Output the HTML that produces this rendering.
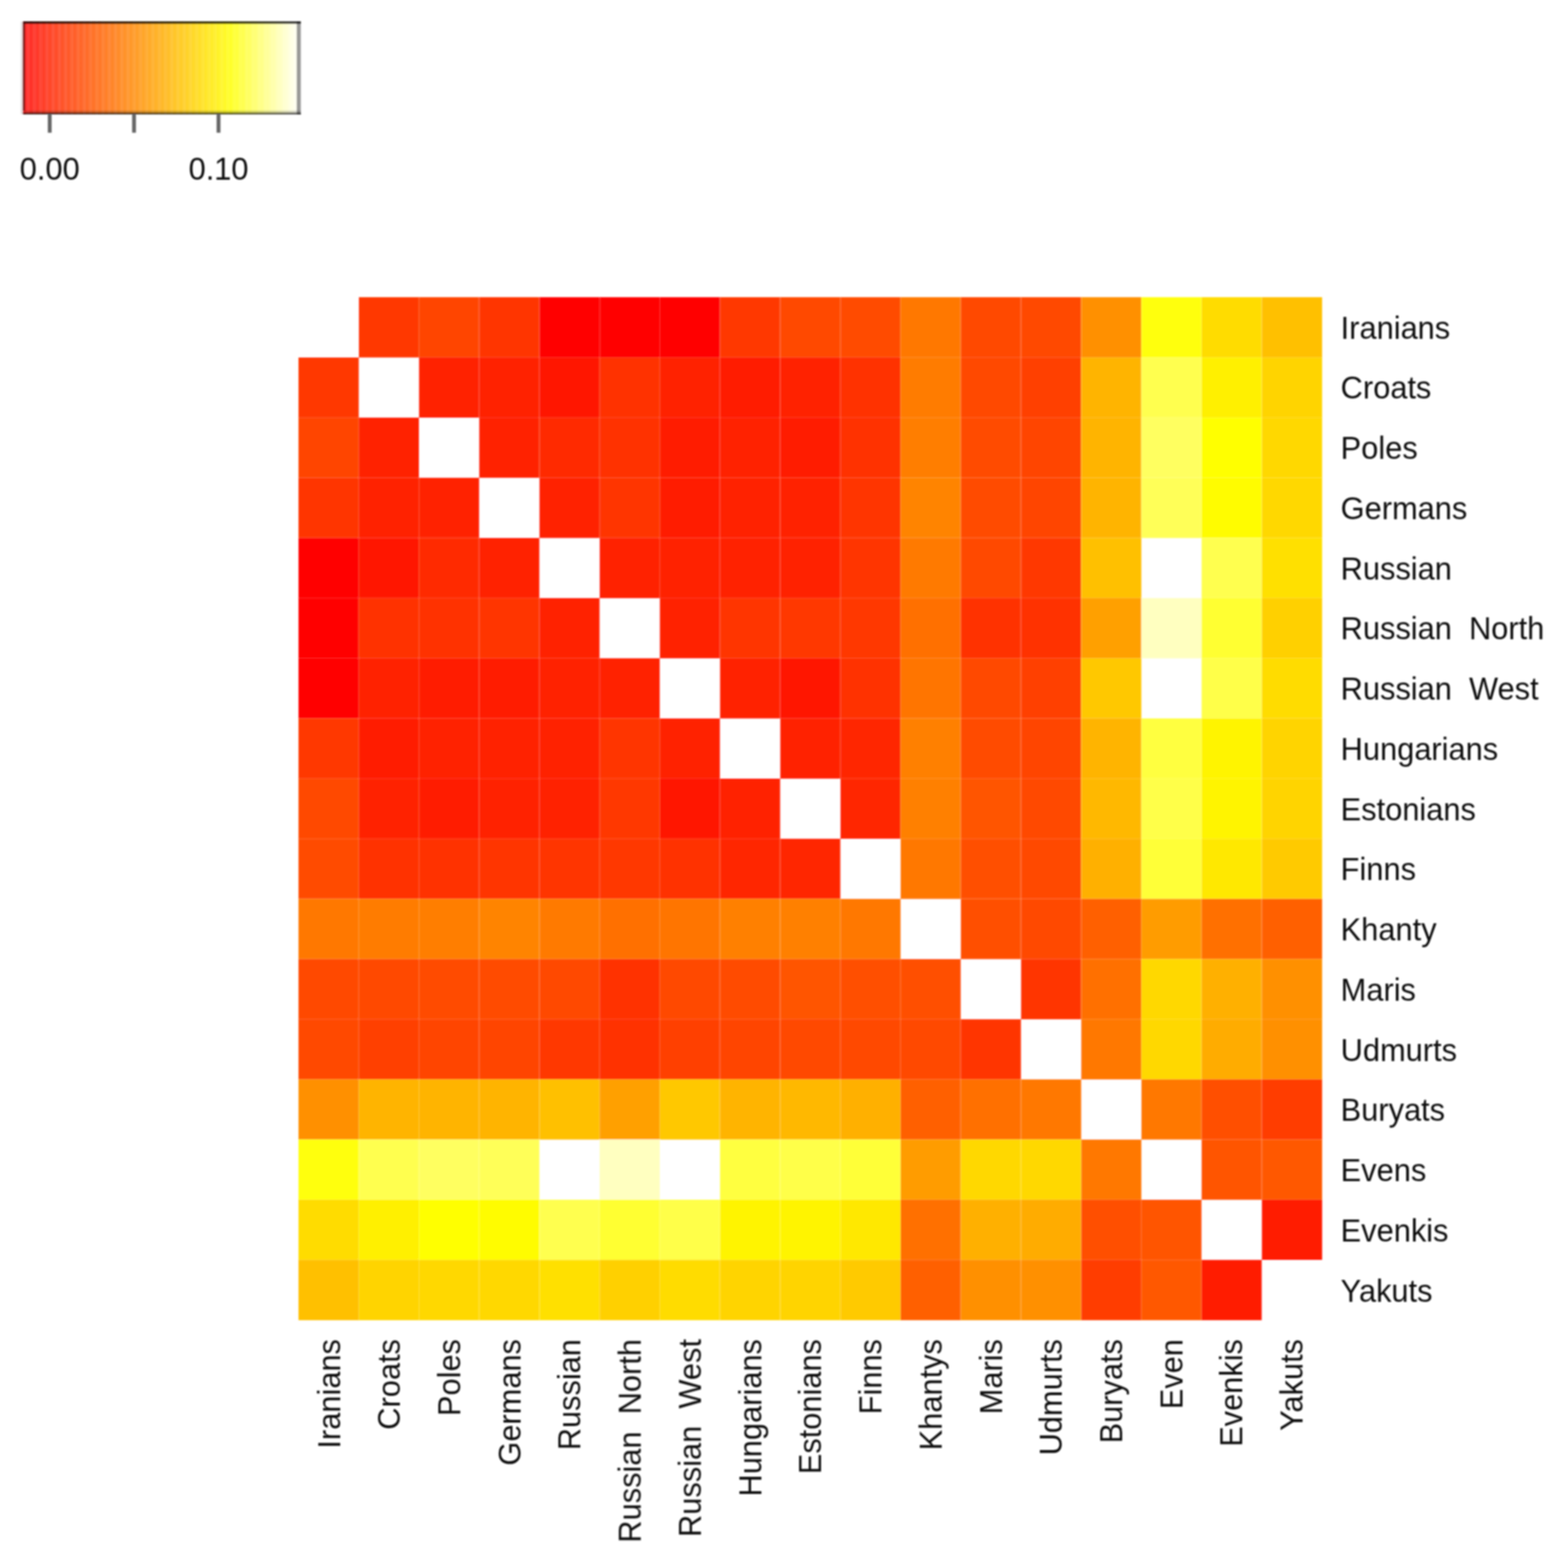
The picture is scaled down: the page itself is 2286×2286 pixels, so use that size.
<!DOCTYPE html>
<html lang="en"><head><meta charset="utf-8"><title>Fst heatmap</title>
<style>
html,body{margin:0;padding:0;background:#fff;}
body{width:2286px;height:2286px;overflow:hidden;}
svg{display:block;}
text{font-family:"Liberation Sans",sans-serif;font-size:46px;fill:#101010;white-space:pre;}
.cells{shape-rendering:auto;}
</style></head><body>
<svg width="2286" height="2286" viewBox="0 0 2286 2286">
<defs>
<linearGradient id="heat" x1="0" y1="0" x2="1" y2="0"><stop offset="0.00" stop-color="#FF2B2B"/><stop offset="0.05" stop-color="#FF392B"/><stop offset="0.10" stop-color="#FF482B"/><stop offset="0.15" stop-color="#FF562B"/><stop offset="0.20" stop-color="#FF642B"/><stop offset="0.25" stop-color="#FF722B"/><stop offset="0.30" stop-color="#FF802B"/><stop offset="0.35" stop-color="#FF8E2B"/><stop offset="0.40" stop-color="#FF9C2B"/><stop offset="0.45" stop-color="#FFAA2B"/><stop offset="0.50" stop-color="#FFB82B"/><stop offset="0.55" stop-color="#FFC72B"/><stop offset="0.60" stop-color="#FFD52B"/><stop offset="0.65" stop-color="#FFE32B"/><stop offset="0.70" stop-color="#FFF12B"/><stop offset="0.75" stop-color="#FFFF2B"/><stop offset="0.80" stop-color="#FFFF56"/><stop offset="0.85" stop-color="#FFFF80"/><stop offset="0.90" stop-color="#FFFFAA"/><stop offset="0.95" stop-color="#FFFFD5"/><stop offset="1.00" stop-color="#FFFFFF"/></linearGradient>
<pattern id="stripe" width="9.1" height="10" patternUnits="userSpaceOnUse" x="34"><rect x="5" y="0" width="4" height="10" fill="#fff" fill-opacity="0.07"/></pattern>
<filter id="soft" x="-5%" y="-5%" width="110%" height="110%"><feGaussianBlur stdDeviation="0.8"/></filter>
<filter id="soft2" filterUnits="userSpaceOnUse" x="400" y="400" width="1560" height="1560"><feGaussianBlur stdDeviation="0.8"/></filter>
</defs>
<rect width="2286" height="2286" fill="#fff"/>
<g filter="url(#soft)">
<rect x="33.7" y="31.5" width="404.2" height="134.5" fill="url(#heat)"/>
<rect x="33.7" y="31.5" width="404.2" height="134.5" fill="url(#stripe)"/>
<rect x="33.7" y="31" width="404.8" height="3.8" fill="#000" fill-opacity="0.74"/>
<rect x="33.7" y="164" width="404.8" height="3" fill="#000" fill-opacity="0.64"/>
<rect x="33.7" y="161.2" width="404.8" height="2.8" fill="#000" fill-opacity="0.16"/>
<rect x="33.7" y="34.8" width="2.8" height="126.4" fill="#000" fill-opacity="0.55"/>
<rect x="30.4" y="31.5" width="3.3" height="135" fill="#000" fill-opacity="0.14"/>
<rect x="432.6" y="31.5" width="6.1" height="135.5" fill="#000" fill-opacity="0.4"/>
<rect x="69.7" y="166.5" width="5.6" height="27" fill="#666"/>
<rect x="192.6" y="166.5" width="5.6" height="27" fill="#666"/>
<rect x="315.8" y="166.5" width="5.6" height="27" fill="#666"/>
</g>
<g filter="url(#soft)">
<text transform="translate(72.5,261.5) scale(0.955,1)" text-anchor="middle" style="font-size:47px">0.00</text>
<text transform="translate(318.6,261.5) scale(0.955,1)" text-anchor="middle" style="font-size:47px">0.10</text>
</g>
<g filter="url(#soft2)">
<g class="cells">
<rect x="522.96" y="433.30" width="88.06" height="88.01" fill="#FF3700"/>
<rect x="610.73" y="433.30" width="88.06" height="88.01" fill="#FF4400"/>
<rect x="698.49" y="433.30" width="88.06" height="88.01" fill="#FF3500"/>
<rect x="786.26" y="433.30" width="88.06" height="88.01" fill="#FF0000"/>
<rect x="874.02" y="433.30" width="88.06" height="88.01" fill="#FF0000"/>
<rect x="961.79" y="433.30" width="88.06" height="88.01" fill="#FF0000"/>
<rect x="1049.55" y="433.30" width="88.06" height="88.01" fill="#FF3800"/>
<rect x="1137.32" y="433.30" width="88.06" height="88.01" fill="#FF4800"/>
<rect x="1225.08" y="433.30" width="88.06" height="88.01" fill="#FF4C00"/>
<rect x="1312.85" y="433.30" width="88.06" height="88.01" fill="#FF7800"/>
<rect x="1400.61" y="433.30" width="88.06" height="88.01" fill="#FF4800"/>
<rect x="1488.38" y="433.30" width="88.06" height="88.01" fill="#FF4800"/>
<rect x="1576.14" y="433.30" width="88.06" height="88.01" fill="#FF9000"/>
<rect x="1663.91" y="433.30" width="88.06" height="88.01" fill="#FFFF10"/>
<rect x="1751.67" y="433.30" width="88.06" height="88.01" fill="#FFDC00"/>
<rect x="1839.44" y="433.30" width="88.06" height="88.01" fill="#FFC000"/>
<rect x="435.20" y="521.01" width="88.06" height="88.01" fill="#FF3700"/>
<rect x="610.73" y="521.01" width="88.06" height="88.01" fill="#FF2000"/>
<rect x="698.49" y="521.01" width="88.06" height="88.01" fill="#FF2000"/>
<rect x="786.26" y="521.01" width="88.06" height="88.01" fill="#FF1800"/>
<rect x="874.02" y="521.01" width="88.06" height="88.01" fill="#FF3000"/>
<rect x="961.79" y="521.01" width="88.06" height="88.01" fill="#FF2000"/>
<rect x="1049.55" y="521.01" width="88.06" height="88.01" fill="#FF1C00"/>
<rect x="1137.32" y="521.01" width="88.06" height="88.01" fill="#FF2400"/>
<rect x="1225.08" y="521.01" width="88.06" height="88.01" fill="#FF3000"/>
<rect x="1312.85" y="521.01" width="88.06" height="88.01" fill="#FF7C00"/>
<rect x="1400.61" y="521.01" width="88.06" height="88.01" fill="#FF4800"/>
<rect x="1488.38" y="521.01" width="88.06" height="88.01" fill="#FF4000"/>
<rect x="1576.14" y="521.01" width="88.06" height="88.01" fill="#FFB400"/>
<rect x="1663.91" y="521.01" width="88.06" height="88.01" fill="#FFFF50"/>
<rect x="1751.67" y="521.01" width="88.06" height="88.01" fill="#FFF000"/>
<rect x="1839.44" y="521.01" width="88.06" height="88.01" fill="#FFD400"/>
<rect x="435.20" y="608.72" width="88.06" height="88.01" fill="#FF4400"/>
<rect x="522.96" y="608.72" width="88.06" height="88.01" fill="#FF2000"/>
<rect x="698.49" y="608.72" width="88.06" height="88.01" fill="#FF2200"/>
<rect x="786.26" y="608.72" width="88.06" height="88.01" fill="#FF2C00"/>
<rect x="874.02" y="608.72" width="88.06" height="88.01" fill="#FF3000"/>
<rect x="961.79" y="608.72" width="88.06" height="88.01" fill="#FF1C00"/>
<rect x="1049.55" y="608.72" width="88.06" height="88.01" fill="#FF2000"/>
<rect x="1137.32" y="608.72" width="88.06" height="88.01" fill="#FF1C00"/>
<rect x="1225.08" y="608.72" width="88.06" height="88.01" fill="#FF3000"/>
<rect x="1312.85" y="608.72" width="88.06" height="88.01" fill="#FF7E00"/>
<rect x="1400.61" y="608.72" width="88.06" height="88.01" fill="#FF4C00"/>
<rect x="1488.38" y="608.72" width="88.06" height="88.01" fill="#FF4400"/>
<rect x="1576.14" y="608.72" width="88.06" height="88.01" fill="#FFB400"/>
<rect x="1663.91" y="608.72" width="88.06" height="88.01" fill="#FFFF60"/>
<rect x="1751.67" y="608.72" width="88.06" height="88.01" fill="#FFFF00"/>
<rect x="1839.44" y="608.72" width="88.06" height="88.01" fill="#FFD800"/>
<rect x="435.20" y="696.44" width="88.06" height="88.01" fill="#FF3500"/>
<rect x="522.96" y="696.44" width="88.06" height="88.01" fill="#FF2000"/>
<rect x="610.73" y="696.44" width="88.06" height="88.01" fill="#FF2200"/>
<rect x="786.26" y="696.44" width="88.06" height="88.01" fill="#FF2000"/>
<rect x="874.02" y="696.44" width="88.06" height="88.01" fill="#FF3400"/>
<rect x="961.79" y="696.44" width="88.06" height="88.01" fill="#FF1C00"/>
<rect x="1049.55" y="696.44" width="88.06" height="88.01" fill="#FF2000"/>
<rect x="1137.32" y="696.44" width="88.06" height="88.01" fill="#FF2400"/>
<rect x="1225.08" y="696.44" width="88.06" height="88.01" fill="#FF3400"/>
<rect x="1312.85" y="696.44" width="88.06" height="88.01" fill="#FF8400"/>
<rect x="1400.61" y="696.44" width="88.06" height="88.01" fill="#FF4C00"/>
<rect x="1488.38" y="696.44" width="88.06" height="88.01" fill="#FF4400"/>
<rect x="1576.14" y="696.44" width="88.06" height="88.01" fill="#FFB400"/>
<rect x="1663.91" y="696.44" width="88.06" height="88.01" fill="#FFFF58"/>
<rect x="1751.67" y="696.44" width="88.06" height="88.01" fill="#FFFC00"/>
<rect x="1839.44" y="696.44" width="88.06" height="88.01" fill="#FFD800"/>
<rect x="435.20" y="784.15" width="88.06" height="88.01" fill="#FF0000"/>
<rect x="522.96" y="784.15" width="88.06" height="88.01" fill="#FF1800"/>
<rect x="610.73" y="784.15" width="88.06" height="88.01" fill="#FF2C00"/>
<rect x="698.49" y="784.15" width="88.06" height="88.01" fill="#FF2000"/>
<rect x="874.02" y="784.15" width="88.06" height="88.01" fill="#FF2000"/>
<rect x="961.79" y="784.15" width="88.06" height="88.01" fill="#FF2000"/>
<rect x="1049.55" y="784.15" width="88.06" height="88.01" fill="#FF2000"/>
<rect x="1137.32" y="784.15" width="88.06" height="88.01" fill="#FF2000"/>
<rect x="1225.08" y="784.15" width="88.06" height="88.01" fill="#FF3400"/>
<rect x="1312.85" y="784.15" width="88.06" height="88.01" fill="#FF7A00"/>
<rect x="1400.61" y="784.15" width="88.06" height="88.01" fill="#FF4800"/>
<rect x="1488.38" y="784.15" width="88.06" height="88.01" fill="#FF3800"/>
<rect x="1576.14" y="784.15" width="88.06" height="88.01" fill="#FFC000"/>
<rect x="1751.67" y="784.15" width="88.06" height="88.01" fill="#FFFF50"/>
<rect x="1839.44" y="784.15" width="88.06" height="88.01" fill="#FFE000"/>
<rect x="435.20" y="871.86" width="88.06" height="88.01" fill="#FF0000"/>
<rect x="522.96" y="871.86" width="88.06" height="88.01" fill="#FF3000"/>
<rect x="610.73" y="871.86" width="88.06" height="88.01" fill="#FF3000"/>
<rect x="698.49" y="871.86" width="88.06" height="88.01" fill="#FF3400"/>
<rect x="786.26" y="871.86" width="88.06" height="88.01" fill="#FF2000"/>
<rect x="961.79" y="871.86" width="88.06" height="88.01" fill="#FF2000"/>
<rect x="1049.55" y="871.86" width="88.06" height="88.01" fill="#FF3400"/>
<rect x="1137.32" y="871.86" width="88.06" height="88.01" fill="#FF3800"/>
<rect x="1225.08" y="871.86" width="88.06" height="88.01" fill="#FF3800"/>
<rect x="1312.85" y="871.86" width="88.06" height="88.01" fill="#FF7000"/>
<rect x="1400.61" y="871.86" width="88.06" height="88.01" fill="#FF3000"/>
<rect x="1488.38" y="871.86" width="88.06" height="88.01" fill="#FF3000"/>
<rect x="1576.14" y="871.86" width="88.06" height="88.01" fill="#FFA000"/>
<rect x="1663.91" y="871.86" width="88.06" height="88.01" fill="#FFFFC0"/>
<rect x="1751.67" y="871.86" width="88.06" height="88.01" fill="#FFFF30"/>
<rect x="1839.44" y="871.86" width="88.06" height="88.01" fill="#FFD000"/>
<rect x="435.20" y="959.57" width="88.06" height="88.01" fill="#FF0000"/>
<rect x="522.96" y="959.57" width="88.06" height="88.01" fill="#FF2000"/>
<rect x="610.73" y="959.57" width="88.06" height="88.01" fill="#FF1C00"/>
<rect x="698.49" y="959.57" width="88.06" height="88.01" fill="#FF1C00"/>
<rect x="786.26" y="959.57" width="88.06" height="88.01" fill="#FF2000"/>
<rect x="874.02" y="959.57" width="88.06" height="88.01" fill="#FF2000"/>
<rect x="1049.55" y="959.57" width="88.06" height="88.01" fill="#FF2000"/>
<rect x="1137.32" y="959.57" width="88.06" height="88.01" fill="#FF1400"/>
<rect x="1225.08" y="959.57" width="88.06" height="88.01" fill="#FF3000"/>
<rect x="1312.85" y="959.57" width="88.06" height="88.01" fill="#FF7400"/>
<rect x="1400.61" y="959.57" width="88.06" height="88.01" fill="#FF4800"/>
<rect x="1488.38" y="959.57" width="88.06" height="88.01" fill="#FF4000"/>
<rect x="1576.14" y="959.57" width="88.06" height="88.01" fill="#FFC800"/>
<rect x="1751.67" y="959.57" width="88.06" height="88.01" fill="#FFFF48"/>
<rect x="1839.44" y="959.57" width="88.06" height="88.01" fill="#FFDC00"/>
<rect x="435.20" y="1047.28" width="88.06" height="88.01" fill="#FF3800"/>
<rect x="522.96" y="1047.28" width="88.06" height="88.01" fill="#FF1C00"/>
<rect x="610.73" y="1047.28" width="88.06" height="88.01" fill="#FF2000"/>
<rect x="698.49" y="1047.28" width="88.06" height="88.01" fill="#FF2000"/>
<rect x="786.26" y="1047.28" width="88.06" height="88.01" fill="#FF2000"/>
<rect x="874.02" y="1047.28" width="88.06" height="88.01" fill="#FF3400"/>
<rect x="961.79" y="1047.28" width="88.06" height="88.01" fill="#FF2000"/>
<rect x="1137.32" y="1047.28" width="88.06" height="88.01" fill="#FF2000"/>
<rect x="1225.08" y="1047.28" width="88.06" height="88.01" fill="#FF2800"/>
<rect x="1312.85" y="1047.28" width="88.06" height="88.01" fill="#FF8000"/>
<rect x="1400.61" y="1047.28" width="88.06" height="88.01" fill="#FF4C00"/>
<rect x="1488.38" y="1047.28" width="88.06" height="88.01" fill="#FF4400"/>
<rect x="1576.14" y="1047.28" width="88.06" height="88.01" fill="#FFB400"/>
<rect x="1663.91" y="1047.28" width="88.06" height="88.01" fill="#FFFF40"/>
<rect x="1751.67" y="1047.28" width="88.06" height="88.01" fill="#FFF400"/>
<rect x="1839.44" y="1047.28" width="88.06" height="88.01" fill="#FFD400"/>
<rect x="435.20" y="1134.99" width="88.06" height="88.01" fill="#FF4800"/>
<rect x="522.96" y="1134.99" width="88.06" height="88.01" fill="#FF2400"/>
<rect x="610.73" y="1134.99" width="88.06" height="88.01" fill="#FF1C00"/>
<rect x="698.49" y="1134.99" width="88.06" height="88.01" fill="#FF2400"/>
<rect x="786.26" y="1134.99" width="88.06" height="88.01" fill="#FF2000"/>
<rect x="874.02" y="1134.99" width="88.06" height="88.01" fill="#FF3800"/>
<rect x="961.79" y="1134.99" width="88.06" height="88.01" fill="#FF1400"/>
<rect x="1049.55" y="1134.99" width="88.06" height="88.01" fill="#FF2000"/>
<rect x="1225.08" y="1134.99" width="88.06" height="88.01" fill="#FF2800"/>
<rect x="1312.85" y="1134.99" width="88.06" height="88.01" fill="#FF8000"/>
<rect x="1400.61" y="1134.99" width="88.06" height="88.01" fill="#FF5400"/>
<rect x="1488.38" y="1134.99" width="88.06" height="88.01" fill="#FF4800"/>
<rect x="1576.14" y="1134.99" width="88.06" height="88.01" fill="#FFB800"/>
<rect x="1663.91" y="1134.99" width="88.06" height="88.01" fill="#FFFF48"/>
<rect x="1751.67" y="1134.99" width="88.06" height="88.01" fill="#FFF400"/>
<rect x="1839.44" y="1134.99" width="88.06" height="88.01" fill="#FFD400"/>
<rect x="435.20" y="1222.71" width="88.06" height="88.01" fill="#FF4C00"/>
<rect x="522.96" y="1222.71" width="88.06" height="88.01" fill="#FF3000"/>
<rect x="610.73" y="1222.71" width="88.06" height="88.01" fill="#FF3000"/>
<rect x="698.49" y="1222.71" width="88.06" height="88.01" fill="#FF3400"/>
<rect x="786.26" y="1222.71" width="88.06" height="88.01" fill="#FF3400"/>
<rect x="874.02" y="1222.71" width="88.06" height="88.01" fill="#FF3800"/>
<rect x="961.79" y="1222.71" width="88.06" height="88.01" fill="#FF3000"/>
<rect x="1049.55" y="1222.71" width="88.06" height="88.01" fill="#FF2800"/>
<rect x="1137.32" y="1222.71" width="88.06" height="88.01" fill="#FF2800"/>
<rect x="1312.85" y="1222.71" width="88.06" height="88.01" fill="#FF7800"/>
<rect x="1400.61" y="1222.71" width="88.06" height="88.01" fill="#FF5000"/>
<rect x="1488.38" y="1222.71" width="88.06" height="88.01" fill="#FF4800"/>
<rect x="1576.14" y="1222.71" width="88.06" height="88.01" fill="#FFB000"/>
<rect x="1663.91" y="1222.71" width="88.06" height="88.01" fill="#FFFF38"/>
<rect x="1751.67" y="1222.71" width="88.06" height="88.01" fill="#FFE800"/>
<rect x="1839.44" y="1222.71" width="88.06" height="88.01" fill="#FFCA00"/>
<rect x="435.20" y="1310.42" width="88.06" height="88.01" fill="#FF7800"/>
<rect x="522.96" y="1310.42" width="88.06" height="88.01" fill="#FF7C00"/>
<rect x="610.73" y="1310.42" width="88.06" height="88.01" fill="#FF7E00"/>
<rect x="698.49" y="1310.42" width="88.06" height="88.01" fill="#FF8400"/>
<rect x="786.26" y="1310.42" width="88.06" height="88.01" fill="#FF7A00"/>
<rect x="874.02" y="1310.42" width="88.06" height="88.01" fill="#FF7000"/>
<rect x="961.79" y="1310.42" width="88.06" height="88.01" fill="#FF7400"/>
<rect x="1049.55" y="1310.42" width="88.06" height="88.01" fill="#FF8000"/>
<rect x="1137.32" y="1310.42" width="88.06" height="88.01" fill="#FF8000"/>
<rect x="1225.08" y="1310.42" width="88.06" height="88.01" fill="#FF7800"/>
<rect x="1400.61" y="1310.42" width="88.06" height="88.01" fill="#FF5000"/>
<rect x="1488.38" y="1310.42" width="88.06" height="88.01" fill="#FF4800"/>
<rect x="1576.14" y="1310.42" width="88.06" height="88.01" fill="#FF6000"/>
<rect x="1663.91" y="1310.42" width="88.06" height="88.01" fill="#FF9C00"/>
<rect x="1751.67" y="1310.42" width="88.06" height="88.01" fill="#FF7000"/>
<rect x="1839.44" y="1310.42" width="88.06" height="88.01" fill="#FF6000"/>
<rect x="435.20" y="1398.13" width="88.06" height="88.01" fill="#FF4800"/>
<rect x="522.96" y="1398.13" width="88.06" height="88.01" fill="#FF4800"/>
<rect x="610.73" y="1398.13" width="88.06" height="88.01" fill="#FF4C00"/>
<rect x="698.49" y="1398.13" width="88.06" height="88.01" fill="#FF4C00"/>
<rect x="786.26" y="1398.13" width="88.06" height="88.01" fill="#FF4800"/>
<rect x="874.02" y="1398.13" width="88.06" height="88.01" fill="#FF3000"/>
<rect x="961.79" y="1398.13" width="88.06" height="88.01" fill="#FF4800"/>
<rect x="1049.55" y="1398.13" width="88.06" height="88.01" fill="#FF4C00"/>
<rect x="1137.32" y="1398.13" width="88.06" height="88.01" fill="#FF5400"/>
<rect x="1225.08" y="1398.13" width="88.06" height="88.01" fill="#FF5000"/>
<rect x="1312.85" y="1398.13" width="88.06" height="88.01" fill="#FF5000"/>
<rect x="1488.38" y="1398.13" width="88.06" height="88.01" fill="#FF3400"/>
<rect x="1576.14" y="1398.13" width="88.06" height="88.01" fill="#FF7000"/>
<rect x="1663.91" y="1398.13" width="88.06" height="88.01" fill="#FFD800"/>
<rect x="1751.67" y="1398.13" width="88.06" height="88.01" fill="#FFB000"/>
<rect x="1839.44" y="1398.13" width="88.06" height="88.01" fill="#FF9000"/>
<rect x="435.20" y="1485.84" width="88.06" height="88.01" fill="#FF4800"/>
<rect x="522.96" y="1485.84" width="88.06" height="88.01" fill="#FF4000"/>
<rect x="610.73" y="1485.84" width="88.06" height="88.01" fill="#FF4400"/>
<rect x="698.49" y="1485.84" width="88.06" height="88.01" fill="#FF4400"/>
<rect x="786.26" y="1485.84" width="88.06" height="88.01" fill="#FF3800"/>
<rect x="874.02" y="1485.84" width="88.06" height="88.01" fill="#FF3000"/>
<rect x="961.79" y="1485.84" width="88.06" height="88.01" fill="#FF4000"/>
<rect x="1049.55" y="1485.84" width="88.06" height="88.01" fill="#FF4400"/>
<rect x="1137.32" y="1485.84" width="88.06" height="88.01" fill="#FF4800"/>
<rect x="1225.08" y="1485.84" width="88.06" height="88.01" fill="#FF4800"/>
<rect x="1312.85" y="1485.84" width="88.06" height="88.01" fill="#FF4800"/>
<rect x="1400.61" y="1485.84" width="88.06" height="88.01" fill="#FF3400"/>
<rect x="1576.14" y="1485.84" width="88.06" height="88.01" fill="#FF7800"/>
<rect x="1663.91" y="1485.84" width="88.06" height="88.01" fill="#FFD800"/>
<rect x="1751.67" y="1485.84" width="88.06" height="88.01" fill="#FFAC00"/>
<rect x="1839.44" y="1485.84" width="88.06" height="88.01" fill="#FF9000"/>
<rect x="435.20" y="1573.55" width="88.06" height="88.01" fill="#FF9000"/>
<rect x="522.96" y="1573.55" width="88.06" height="88.01" fill="#FFB400"/>
<rect x="610.73" y="1573.55" width="88.06" height="88.01" fill="#FFB400"/>
<rect x="698.49" y="1573.55" width="88.06" height="88.01" fill="#FFB400"/>
<rect x="786.26" y="1573.55" width="88.06" height="88.01" fill="#FFC000"/>
<rect x="874.02" y="1573.55" width="88.06" height="88.01" fill="#FFA000"/>
<rect x="961.79" y="1573.55" width="88.06" height="88.01" fill="#FFC800"/>
<rect x="1049.55" y="1573.55" width="88.06" height="88.01" fill="#FFB400"/>
<rect x="1137.32" y="1573.55" width="88.06" height="88.01" fill="#FFB800"/>
<rect x="1225.08" y="1573.55" width="88.06" height="88.01" fill="#FFB000"/>
<rect x="1312.85" y="1573.55" width="88.06" height="88.01" fill="#FF6000"/>
<rect x="1400.61" y="1573.55" width="88.06" height="88.01" fill="#FF7000"/>
<rect x="1488.38" y="1573.55" width="88.06" height="88.01" fill="#FF7800"/>
<rect x="1663.91" y="1573.55" width="88.06" height="88.01" fill="#FF7800"/>
<rect x="1751.67" y="1573.55" width="88.06" height="88.01" fill="#FF5000"/>
<rect x="1839.44" y="1573.55" width="88.06" height="88.01" fill="#FF3C00"/>
<rect x="435.20" y="1661.26" width="88.06" height="88.01" fill="#FFFF10"/>
<rect x="522.96" y="1661.26" width="88.06" height="88.01" fill="#FFFF50"/>
<rect x="610.73" y="1661.26" width="88.06" height="88.01" fill="#FFFF60"/>
<rect x="698.49" y="1661.26" width="88.06" height="88.01" fill="#FFFF58"/>
<rect x="874.02" y="1661.26" width="88.06" height="88.01" fill="#FFFFC0"/>
<rect x="1049.55" y="1661.26" width="88.06" height="88.01" fill="#FFFF40"/>
<rect x="1137.32" y="1661.26" width="88.06" height="88.01" fill="#FFFF48"/>
<rect x="1225.08" y="1661.26" width="88.06" height="88.01" fill="#FFFF38"/>
<rect x="1312.85" y="1661.26" width="88.06" height="88.01" fill="#FF9C00"/>
<rect x="1400.61" y="1661.26" width="88.06" height="88.01" fill="#FFD800"/>
<rect x="1488.38" y="1661.26" width="88.06" height="88.01" fill="#FFD800"/>
<rect x="1576.14" y="1661.26" width="88.06" height="88.01" fill="#FF7800"/>
<rect x="1751.67" y="1661.26" width="88.06" height="88.01" fill="#FF5400"/>
<rect x="1839.44" y="1661.26" width="88.06" height="88.01" fill="#FF5800"/>
<rect x="435.20" y="1748.98" width="88.06" height="88.01" fill="#FFDC00"/>
<rect x="522.96" y="1748.98" width="88.06" height="88.01" fill="#FFF000"/>
<rect x="610.73" y="1748.98" width="88.06" height="88.01" fill="#FFFF00"/>
<rect x="698.49" y="1748.98" width="88.06" height="88.01" fill="#FFFC00"/>
<rect x="786.26" y="1748.98" width="88.06" height="88.01" fill="#FFFF50"/>
<rect x="874.02" y="1748.98" width="88.06" height="88.01" fill="#FFFF30"/>
<rect x="961.79" y="1748.98" width="88.06" height="88.01" fill="#FFFF48"/>
<rect x="1049.55" y="1748.98" width="88.06" height="88.01" fill="#FFF400"/>
<rect x="1137.32" y="1748.98" width="88.06" height="88.01" fill="#FFF400"/>
<rect x="1225.08" y="1748.98" width="88.06" height="88.01" fill="#FFE800"/>
<rect x="1312.85" y="1748.98" width="88.06" height="88.01" fill="#FF7000"/>
<rect x="1400.61" y="1748.98" width="88.06" height="88.01" fill="#FFB000"/>
<rect x="1488.38" y="1748.98" width="88.06" height="88.01" fill="#FFAC00"/>
<rect x="1576.14" y="1748.98" width="88.06" height="88.01" fill="#FF5000"/>
<rect x="1663.91" y="1748.98" width="88.06" height="88.01" fill="#FF5400"/>
<rect x="1839.44" y="1748.98" width="88.06" height="88.01" fill="#FF1C00"/>
<rect x="435.20" y="1836.69" width="88.06" height="88.01" fill="#FFC000"/>
<rect x="522.96" y="1836.69" width="88.06" height="88.01" fill="#FFD400"/>
<rect x="610.73" y="1836.69" width="88.06" height="88.01" fill="#FFD800"/>
<rect x="698.49" y="1836.69" width="88.06" height="88.01" fill="#FFD800"/>
<rect x="786.26" y="1836.69" width="88.06" height="88.01" fill="#FFE000"/>
<rect x="874.02" y="1836.69" width="88.06" height="88.01" fill="#FFD000"/>
<rect x="961.79" y="1836.69" width="88.06" height="88.01" fill="#FFDC00"/>
<rect x="1049.55" y="1836.69" width="88.06" height="88.01" fill="#FFD400"/>
<rect x="1137.32" y="1836.69" width="88.06" height="88.01" fill="#FFD400"/>
<rect x="1225.08" y="1836.69" width="88.06" height="88.01" fill="#FFCA00"/>
<rect x="1312.85" y="1836.69" width="88.06" height="88.01" fill="#FF6000"/>
<rect x="1400.61" y="1836.69" width="88.06" height="88.01" fill="#FF9000"/>
<rect x="1488.38" y="1836.69" width="88.06" height="88.01" fill="#FF9000"/>
<rect x="1576.14" y="1836.69" width="88.06" height="88.01" fill="#FF3C00"/>
<rect x="1663.91" y="1836.69" width="88.06" height="88.01" fill="#FF5800"/>
<rect x="1751.67" y="1836.69" width="88.06" height="88.01" fill="#FF1C00"/>
</g>
<g stroke="#fff" stroke-opacity="0.12" stroke-width="2.6">
<line x1="522.96" y1="433.3" x2="522.96" y2="1924.4"/>
<line x1="435.2" y1="521.01" x2="1927.2" y2="521.01" stroke-opacity="0.07"/>
<line x1="610.73" y1="433.3" x2="610.73" y2="1924.4"/>
<line x1="435.2" y1="608.72" x2="1927.2" y2="608.72" stroke-opacity="0.07"/>
<line x1="698.49" y1="433.3" x2="698.49" y2="1924.4"/>
<line x1="435.2" y1="696.44" x2="1927.2" y2="696.44" stroke-opacity="0.07"/>
<line x1="786.26" y1="433.3" x2="786.26" y2="1924.4"/>
<line x1="435.2" y1="784.15" x2="1927.2" y2="784.15" stroke-opacity="0.07"/>
<line x1="874.02" y1="433.3" x2="874.02" y2="1924.4"/>
<line x1="435.2" y1="871.86" x2="1927.2" y2="871.86" stroke-opacity="0.07"/>
<line x1="961.79" y1="433.3" x2="961.79" y2="1924.4"/>
<line x1="435.2" y1="959.57" x2="1927.2" y2="959.57" stroke-opacity="0.07"/>
<line x1="1049.55" y1="433.3" x2="1049.55" y2="1924.4"/>
<line x1="435.2" y1="1047.28" x2="1927.2" y2="1047.28" stroke-opacity="0.07"/>
<line x1="1137.32" y1="433.3" x2="1137.32" y2="1924.4"/>
<line x1="435.2" y1="1134.99" x2="1927.2" y2="1134.99" stroke-opacity="0.07"/>
<line x1="1225.08" y1="433.3" x2="1225.08" y2="1924.4"/>
<line x1="435.2" y1="1222.71" x2="1927.2" y2="1222.71" stroke-opacity="0.07"/>
<line x1="1312.85" y1="433.3" x2="1312.85" y2="1924.4"/>
<line x1="435.2" y1="1310.42" x2="1927.2" y2="1310.42" stroke-opacity="0.07"/>
<line x1="1400.61" y1="433.3" x2="1400.61" y2="1924.4"/>
<line x1="435.2" y1="1398.13" x2="1927.2" y2="1398.13" stroke-opacity="0.07"/>
<line x1="1488.38" y1="433.3" x2="1488.38" y2="1924.4"/>
<line x1="435.2" y1="1485.84" x2="1927.2" y2="1485.84" stroke-opacity="0.07"/>
<line x1="1576.14" y1="433.3" x2="1576.14" y2="1924.4"/>
<line x1="435.2" y1="1573.55" x2="1927.2" y2="1573.55" stroke-opacity="0.07"/>
<line x1="1663.91" y1="433.3" x2="1663.91" y2="1924.4"/>
<line x1="435.2" y1="1661.26" x2="1927.2" y2="1661.26" stroke-opacity="0.07"/>
<line x1="1751.67" y1="433.3" x2="1751.67" y2="1924.4"/>
<line x1="435.2" y1="1748.98" x2="1927.2" y2="1748.98" stroke-opacity="0.07"/>
<line x1="1839.44" y1="433.3" x2="1839.44" y2="1924.4"/>
<line x1="435.2" y1="1836.69" x2="1927.2" y2="1836.69" stroke-opacity="0.07"/>
</g>
</g>
<g filter="url(#soft)">
<text transform="translate(1954.6,493.7) scale(0.976,1)">Iranians</text>
<text transform="translate(1954.6,581.4) scale(0.976,1)">Croats</text>
<text transform="translate(1954.6,669.1) scale(0.976,1)">Poles</text>
<text transform="translate(1954.6,756.9) scale(0.976,1)">Germans</text>
<text transform="translate(1954.6,844.6) scale(0.976,1)">Russian</text>
<text transform="translate(1954.6,932.4) scale(0.976,1)">Russian  North</text>
<text transform="translate(1954.6,1020.1) scale(0.976,1)">Russian  West</text>
<text transform="translate(1954.6,1107.8) scale(0.976,1)">Hungarians</text>
<text transform="translate(1954.6,1195.6) scale(0.976,1)">Estonians</text>
<text transform="translate(1954.6,1283.3) scale(0.976,1)">Finns</text>
<text transform="translate(1954.6,1371.1) scale(0.976,1)">Khanty</text>
<text transform="translate(1954.6,1458.8) scale(0.976,1)">Maris</text>
<text transform="translate(1954.6,1546.5) scale(0.976,1)">Udmurts</text>
<text transform="translate(1954.6,1634.3) scale(0.976,1)">Buryats</text>
<text transform="translate(1954.6,1722.0) scale(0.976,1)">Evens</text>
<text transform="translate(1954.6,1809.8) scale(0.976,1)">Evenkis</text>
<text transform="translate(1954.6,1897.5) scale(0.976,1)">Yakuts</text>
<text transform="translate(495.6,1952.2) rotate(-90) scale(0.976,1)" text-anchor="end">Iranians</text>
<text transform="translate(583.3,1952.2) rotate(-90) scale(0.976,1)" text-anchor="end">Croats</text>
<text transform="translate(671.0,1952.2) rotate(-90) scale(0.976,1)" text-anchor="end">Poles</text>
<text transform="translate(758.7,1952.2) rotate(-90) scale(0.976,1)" text-anchor="end">Germans</text>
<text transform="translate(846.4,1952.2) rotate(-90) scale(0.976,1)" text-anchor="end">Russian</text>
<text transform="translate(934.2,1952.2) rotate(-90) scale(0.976,1)" text-anchor="end">Russian  North</text>
<text transform="translate(1021.9,1952.2) rotate(-90) scale(0.976,1)" text-anchor="end">Russian  West</text>
<text transform="translate(1109.6,1952.2) rotate(-90) scale(0.976,1)" text-anchor="end">Hungarians</text>
<text transform="translate(1197.3,1952.2) rotate(-90) scale(0.976,1)" text-anchor="end">Estonians</text>
<text transform="translate(1285.0,1952.2) rotate(-90) scale(0.976,1)" text-anchor="end">Finns</text>
<text transform="translate(1372.8,1952.2) rotate(-90) scale(0.976,1)" text-anchor="end">Khantys</text>
<text transform="translate(1460.5,1952.2) rotate(-90) scale(0.976,1)" text-anchor="end">Maris</text>
<text transform="translate(1548.2,1952.2) rotate(-90) scale(0.976,1)" text-anchor="end">Udmurts</text>
<text transform="translate(1635.9,1952.2) rotate(-90) scale(0.976,1)" text-anchor="end">Buryats</text>
<text transform="translate(1723.6,1952.2) rotate(-90) scale(0.976,1)" text-anchor="end">Even</text>
<text transform="translate(1811.4,1952.2) rotate(-90) scale(0.976,1)" text-anchor="end">Evenkis</text>
<text transform="translate(1899.1,1952.2) rotate(-90) scale(0.976,1)" text-anchor="end">Yakuts</text>
</g>
</svg></body></html>
